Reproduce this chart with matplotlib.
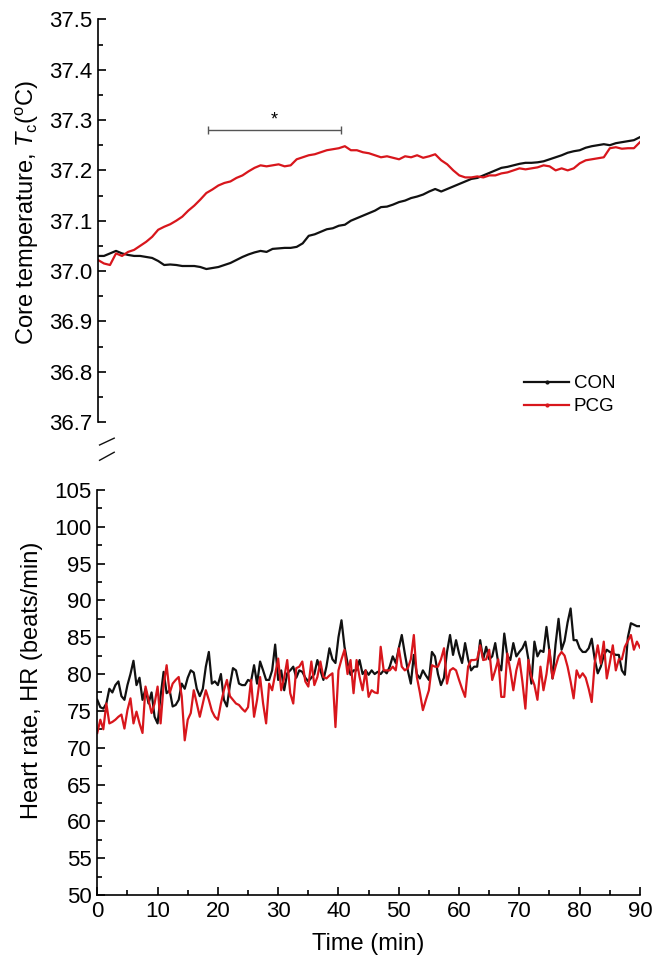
import numpy as np
import matplotlib.pyplot as plt
from matplotlib.lines import Line2D
from matplotlib.ticker import MultipleLocator, FormatStrFormatter

plt.rcParams['font.family'] = ['Liberation Sans', 'DejaVu Sans']
plt.rcParams['mathtext.fontset'] = 'custom'
plt.rcParams['mathtext.rm'] = 'Liberation Sans'
plt.rcParams['mathtext.it'] = 'Liberation Sans:italic'

# core temperature, one reading per minute (0..90 min)
tc_con = [37.03, 37.03, 37.035, 37.04, 37.035, 37.032, 37.03, 37.03, 37.028, 37.026, 37.02,
          37.012, 37.013, 37.012, 37.01, 37.01, 37.01, 37.008, 37.004, 37.006, 37.008,
          37.012, 37.016, 37.022, 37.028, 37.033, 37.037, 37.04, 37.038, 37.044, 37.045,
          37.046, 37.046, 37.048, 37.055, 37.07, 37.073, 37.078, 37.083, 37.085, 37.09,
          37.092, 37.1, 37.105, 37.11, 37.115, 37.12, 37.127, 37.128, 37.132, 37.137,
          37.14, 37.145, 37.148, 37.152, 37.158, 37.163, 37.158, 37.163, 37.168, 37.173,
          37.178, 37.183, 37.185, 37.19, 37.195, 37.2, 37.205, 37.207, 37.21, 37.213,
          37.215, 37.215, 37.216, 37.218, 37.222, 37.226, 37.23, 37.235, 37.238, 37.24,
          37.245, 37.248, 37.25, 37.252, 37.25, 37.254, 37.256, 37.258, 37.26, 37.266]
tc_pcg = [37.022, 37.015, 37.012, 37.035, 37.03, 37.038, 37.042, 37.05, 37.058, 37.068, 37.082,
          37.088, 37.093, 37.1, 37.108, 37.12, 37.13, 37.142, 37.155, 37.162, 37.17,
          37.175, 37.178, 37.185, 37.19, 37.198, 37.205, 37.21, 37.208, 37.21, 37.212,
          37.208, 37.21, 37.222, 37.226, 37.23, 37.232, 37.236, 37.24, 37.242, 37.244,
          37.248, 37.24, 37.24, 37.236, 37.234, 37.23, 37.226, 37.228, 37.225, 37.222,
          37.228, 37.226, 37.23, 37.225, 37.228, 37.232, 37.22, 37.212, 37.2, 37.19,
          37.186, 37.186, 37.188, 37.186, 37.19, 37.19, 37.194, 37.196, 37.2, 37.204,
          37.202, 37.204, 37.206, 37.21, 37.208, 37.2, 37.204, 37.2, 37.204, 37.214,
          37.22, 37.222, 37.224, 37.226, 37.244, 37.246, 37.243, 37.244, 37.244, 37.256]

# heart rate, one reading every 30 s (0..90 min)
hr_con = [76.5, 75.5, 75.3, 76.0, 78.0, 77.5, 78.5, 79.0, 77.0, 76.5,
          78.5, 80.0, 81.8, 78.5, 79.5, 76.5, 78.0, 76.0, 77.5, 74.2,
          73.3, 77.0, 80.3, 77.4, 77.8, 75.6, 75.8, 76.5, 78.7, 78.0,
          79.5, 80.5, 80.2, 78.0, 77.0, 78.0, 81.0, 83.0, 78.7, 79.0,
          78.5, 80.0, 76.5, 75.6, 78.5, 80.8, 80.5, 78.7, 78.5, 78.5,
          79.2, 79.0, 81.2, 78.7, 81.7, 80.5, 79.2, 79.2, 80.5, 84.0,
          79.2, 80.5, 77.8, 80.1, 80.5, 81.0, 79.5, 80.5, 80.3, 79.5,
          79.0, 79.5, 80.0, 81.9, 80.5, 79.2, 81.0, 83.5, 82.0, 81.5,
          85.0, 87.3, 83.7, 81.5, 79.9, 80.5, 80.5, 81.9, 80.0, 80.5,
          79.9, 80.5, 80.0, 80.3, 80.0, 80.5, 80.1, 81.0, 82.4, 81.5,
          83.5, 85.3, 82.8, 80.5, 78.7, 82.6, 80.0, 79.4, 80.5, 79.8,
          79.2, 83.0, 82.4, 80.0, 78.5, 79.5, 83.0, 85.3, 82.6, 84.6,
          82.8, 81.5, 84.2, 82.0, 80.5, 81.0, 81.0, 84.6, 82.0, 83.7,
          82.0, 82.4, 84.2, 81.5, 80.5, 85.5, 82.5, 81.9, 84.2, 82.4,
          83.0, 83.5, 84.4, 82.0, 78.7, 84.4, 82.4, 83.2, 83.0, 86.4,
          83.0, 79.4, 84.0, 87.5, 83.3, 84.5, 87.0, 88.9, 84.6, 84.6,
          83.5, 83.0, 83.0, 83.5, 84.8, 82.0, 80.1, 81.0, 82.5, 83.3,
          83.0, 82.8, 82.6, 82.6, 80.5, 79.9, 85.0, 86.9, 86.7, 86.5,
          86.5]
hr_pcg = [72.0, 73.8, 72.5, 76.0, 73.3, 73.5, 73.8, 74.2, 74.5, 72.6,
          75.1, 76.7, 73.3, 74.9, 73.3, 72.0, 78.3, 76.5, 74.7, 76.0,
          78.3, 73.3, 78.5, 81.2, 77.4, 78.7, 79.2, 79.6, 77.0, 71.0,
          73.8, 74.7, 77.8, 76.0, 74.2, 76.0, 77.8, 76.5, 75.0, 74.2,
          73.8, 76.0, 77.8, 79.2, 77.0, 76.5, 76.0, 75.8, 75.3, 74.9,
          75.5, 79.2, 74.2, 76.5, 79.6, 76.0, 73.3, 78.7, 77.8, 80.0,
          82.1, 77.8, 79.5, 81.9, 77.4, 76.0, 80.8, 81.0, 81.7, 79.0,
          78.3, 81.7, 78.5, 79.6, 81.7, 79.6, 79.4, 79.8, 80.1, 72.8,
          80.5, 82.0, 83.3, 80.0, 81.9, 77.4, 81.9, 79.6, 77.8, 80.5,
          76.9, 77.8, 77.5, 77.4, 83.7, 80.5, 80.5, 80.5, 81.0, 80.5,
          83.5, 81.0, 80.5, 80.8, 82.0, 85.3, 79.6, 77.5, 75.1, 76.5,
          77.8, 81.2, 81.0, 81.0, 82.0, 83.5, 78.7, 80.5, 80.8, 80.5,
          79.2, 78.0, 76.9, 81.0, 81.9, 81.9, 82.0, 83.9, 81.9, 82.0,
          83.3, 79.2, 80.5, 82.0, 76.9, 76.9, 82.8, 80.5, 77.8, 80.5,
          82.1, 79.0, 75.3, 81.9, 79.6, 78.5, 76.5, 81.0, 77.8, 80.0,
          83.3, 79.4, 81.0, 82.4, 83.0, 82.5, 81.0, 79.0, 76.7, 80.5,
          79.5, 80.1, 79.5, 78.0, 76.2, 81.5, 83.9, 81.4, 84.4, 79.4,
          81.5, 83.9, 80.5, 82.0, 82.0, 83.7, 84.5, 85.3, 83.3, 84.4,
          83.6]

t_tc = np.linspace(0, 90, len(tc_con))
t_hr = np.linspace(0, 90, len(hr_con))

sig_start, sig_end, sig_level = 18.2, 40.3, 37.28

black = '#111111'
red = '#d8161c'

fig = plt.figure(figsize=(6.53, 9.68), dpi=100)
ax1 = fig.add_axes([0.150, 0.564, 0.830, 0.416])
ax2 = fig.add_axes([0.149, 0.0754, 0.831, 0.4185])

# --- top panel: core temperature
ax1.plot(t_tc, tc_con, color=black, lw=1.6)
ax1.plot(t_tc, tc_pcg, color=red, lw=1.6)
ax1.set_xlim(0, 90)
ax1.set_ylim(36.7, 37.5)
ax1.yaxis.set_major_locator(MultipleLocator(0.1))
ax1.yaxis.set_minor_locator(MultipleLocator(0.05))
ax1.yaxis.set_major_formatter(FormatStrFormatter('%.1f'))
for s in ['top', 'right', 'bottom']:
    ax1.spines[s].set_visible(False)
ax1.tick_params(axis='x', bottom=False, labelbottom=False)
ax1.set_ylabel(r'Core temperature, $\mathit{T}_{\mathrm{c}}$($^{\mathrm{o}}$C)', fontsize=17)
ax1.yaxis.set_label_coords(-0.105, 0.52)

# significance bar
ax1.hlines(sig_level, sig_start, sig_end, color='#555555', lw=1)
ax1.vlines([sig_start, sig_end], sig_level - 0.008, sig_level + 0.008, color='#555555', lw=1)
ax1.text((sig_start + sig_end) / 2, sig_level + 0.004, '*', ha='center', va='bottom', fontsize=13)

handles = [Line2D([], [], color=black, lw=1.6, marker='o', markersize=2),
           Line2D([], [], color=red, lw=1.6, marker='o', markersize=2)]
ax1.legend(handles, ['CON', 'PCG'], loc='lower left', bbox_to_anchor=(0.755, -0.025),
           frameon=False, fontsize=13.5, handlelength=2.4, handletextpad=0.25,
           labelspacing=0.3, markerfirst=True)

# axis break marks
kw = dict(transform=ax1.transAxes, color=black, lw=1, clip_on=False)
ax1.plot([0.003, 0.03], [-0.057, -0.04], **kw)
ax1.plot([0.003, 0.03], [-0.095, -0.075], **kw)

# --- bottom panel: heart rate
ax2.plot(t_hr, hr_con, color=black, lw=1.6)
ax2.plot(t_hr, hr_pcg, color=red, lw=1.6)
ax2.set_xlim(0, 90)
ax2.set_ylim(50, 105)
ax2.xaxis.set_major_locator(MultipleLocator(10))
ax2.xaxis.set_minor_locator(MultipleLocator(5))
ax2.yaxis.set_major_locator(MultipleLocator(5))
ax2.yaxis.set_minor_locator(MultipleLocator(2.5))
for s in ['top', 'right']:
    ax2.spines[s].set_visible(False)
ax2.set_xlabel('Time (min)', fontsize=17, labelpad=8)
ax2.set_ylabel('Heart rate, HR (beats/min)', fontsize=17)
ax2.yaxis.set_label_coords(-0.10, 0.53)

for ax in (ax1, ax2):
    ax.spines['left'].set_linewidth(1.2)
    ax.spines['bottom'].set_linewidth(1.2)
    ax.tick_params(which='major', direction='in', length=6, width=1.2, labelsize=16, pad=4)
    ax.tick_params(which='minor', direction='in', length=3.5, width=1.2)

fig.savefig('out.png', dpi=100)
